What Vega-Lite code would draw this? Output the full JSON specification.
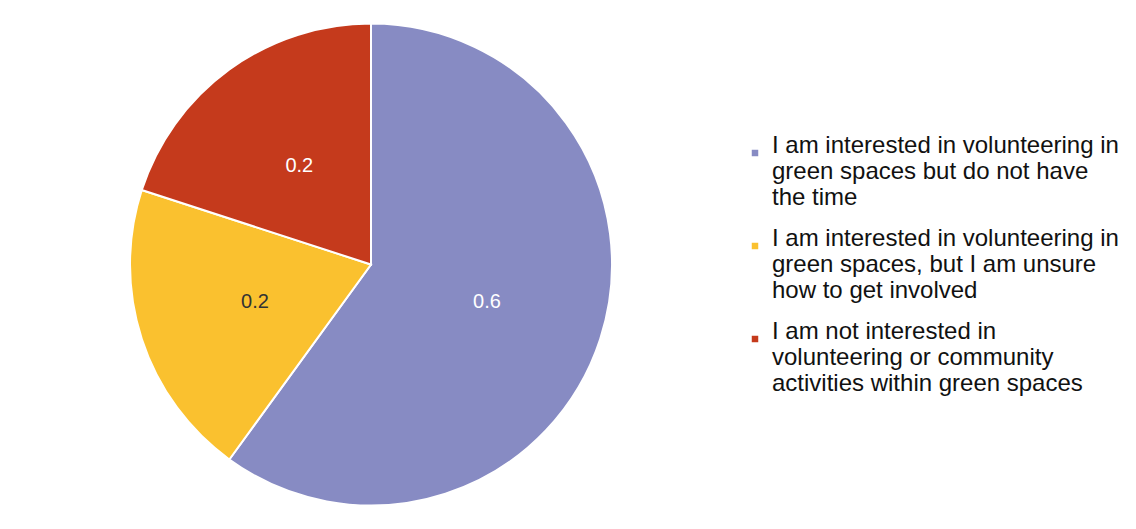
{
  "$schema": "https://vega.github.io/schema/vega-lite/v6.json",
  "width": 742,
  "height": 529,
  "padding": 0,
  "autosize": {"type": "pad"},
  "background": "white",
  "data": {
    "values": [
      {"category": "I am interested in volunteering in green spaces but do not have the time", "share": 0.6, "order": 1},
      {"category": "I am interested in volunteering in green spaces, but I am unsure how to get involved", "share": 0.2, "order": 2},
      {"category": "I am not interested in volunteering or community activities within green spaces", "share": 0.2, "order": 3}
    ]
  },
  "encoding": {
    "theta": {"field": "share", "type": "quantitative", "stack": true},
    "order": {"field": "order", "type": "quantitative"}
  },
  "layer": [
    {
      "mark": {"type": "arc", "outerRadius": 241, "stroke": "white", "strokeWidth": 2},
      "encoding": {
        "color": {
          "field": "category",
          "type": "nominal",
          "scale": {
            "domain": [
              "I am interested in volunteering in green spaces but do not have the time",
              "I am interested in volunteering in green spaces, but I am unsure how to get involved",
              "I am not interested in volunteering or community activities within green spaces"
            ],
            "range": ["#878BC3", "#FAC12F", "#C53A1C"]
          },
          "legend": {
            "title": null,
            "orient": "none",
            "legendX": 743,
            "legendY": 141,
            "symbolType": "square",
            "symbolSize": 42,
            "symbolStrokeWidth": 0,
            "labelFont": "Liberation Sans",
            "labelFontSize": 24,
            "labelColor": "#111111",
            "labelLimit": 0,
            "labelOffset": 5,
            "rowPadding": 17,
            "labelBaseline": "alphabetic",
            "labelExpr": "datum.label == 'I am interested in volunteering in green spaces but do not have the time' ? ['I am interested in volunteering in', 'green spaces but do not have', 'the time'] : datum.label == 'I am interested in volunteering in green spaces, but I am unsure how to get involved' ? ['I am interested in volunteering in', 'green spaces, but I am unsure', 'how to get involved'] : ['I am not interested in', 'volunteering or community', 'activities within green spaces']"
          }
        }
      }
    },
    {
      "mark": {"type": "text", "radius": 122, "fontSize": 20, "font": "Liberation Sans"},
      "encoding": {
        "text": {"field": "share", "type": "quantitative", "format": ".1f"},
        "color": {"condition": {"test": "datum.order == 2", "value": "#333333"}, "value": "#ffffff"}
      }
    }
  ],
  "config": {"view": {"stroke": null}}
}
